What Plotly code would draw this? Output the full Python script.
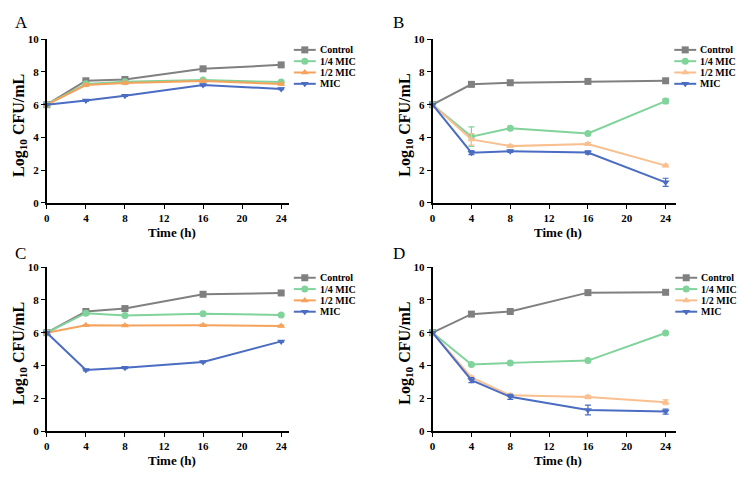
import plotly.graph_objects as go

# ---------------- data ----------------
time_h = [0, 4, 8, 16, 24]
series_names = ["Control", "1/4 MIC", "1/2 MIC", "MIC"]

A_control = [6.0, 7.46, 7.54, 8.19, 8.43]
A_quarter = [6.0, 7.27, 7.40, 7.50, 7.38]
A_half = [6.0, 7.20, 7.32, 7.44, 7.26]
A_mic = [6.0, 6.25, 6.55, 7.20, 6.96]
A_err = [[0, 0.05, 0.05, 0.05, 0.05]] * 4

B_control = [6.0, 7.24, 7.34, 7.42, 7.46]
B_quarter = [6.0, 4.05, 4.56, 4.24, 6.22]
B_half = [6.0, 3.88, 3.47, 3.60, 2.28]
B_mic = [6.0, 3.07, 3.16, 3.08, 1.26]
B_err = [[0, 0.05, 0.05, 0.05, 0.05],
         [0, 0.60, 0.08, 0.08, 0.15],
         [0, 0.35, 0.08, 0.08, 0.08],
         [0, 0.12, 0.08, 0.10, 0.25]]

C_control = [6.0, 7.29, 7.47, 8.34, 8.42]
C_quarter = [6.0, 7.19, 7.05, 7.15, 7.08]
C_half = [6.0, 6.45, 6.44, 6.46, 6.41]
C_mic = [6.0, 3.72, 3.86, 4.22, 5.47]
C_err = [[0, 0.05, 0.05, 0.05, 0.05]] * 4

D_control = [6.0, 7.13, 7.29, 8.44, 8.46]
D_quarter = [6.0, 4.06, 4.16, 4.30, 5.98]
D_half = [6.0, 3.27, 2.18, 2.08, 1.76]
D_mic = [6.0, 3.11, 2.09, 1.29, 1.19]
D_err = [[0, 0.05, 0.05, 0.05, 0.05],
         [0, 0.05, 0.05, 0.05, 0.05],
         [0, 0.08, 0.08, 0.10, 0.15],
         [0, 0.15, 0.15, 0.30, 0.15]]

x_ticks = [0, 4, 8, 12, 16, 20, 24]
y_ticks = [0, 2, 4, 6, 8, 10]
panel_letters = ["A", "B", "C", "D"]

# ---------------- style ----------------
W, H = 744, 482
FONT = "Liberation Serif"
gray = "#808080"
green = "#80d39a"
blue = "#4a6cc2"
orange_dark = "#f5a35c"
orange_light = "#f9bf8e"
symbols = ["square", "circle", "triangle-up", "triangle-down"]

panels = [
    dict(vals=[A_control, A_quarter, A_half, A_mic], err=A_err, orange=orange_dark,
         xl=44, xr=287, x24=279.3, yt=34, yb=202, lx=292, let=(10, 17)),
    dict(vals=[B_control, B_quarter, B_half, B_mic], err=B_err, orange=orange_light,
         xl=431.3, xr=676, x24=665.3, yt=34, yb=202, lx=674, let=(390, 17)),
    dict(vals=[C_control, C_quarter, C_half, C_mic], err=C_err, orange=orange_dark,
         xl=44, xr=287, x24=279.3, yt=267.7, yb=436, lx=292, let=(10, 254)),
    dict(vals=[D_control, D_quarter, D_half, D_mic], err=D_err, orange=orange_light,
         xl=431.3, xr=676, x24=665.3, yt=267.7, yb=436, lx=675, let=(390, 254)),
]

fig = go.Figure()
layout = dict(width=W, height=H, margin=dict(l=0, r=0, t=0, b=0),
              paper_bgcolor="white", plot_bgcolor="rgba(0,0,0,0)", showlegend=False,
              font=dict(family=FONT, color="black"))
annotations = []

for i, p in enumerate(panels):
    k = i + 1
    xa = "x" if k == 1 else f"x{k}"
    ya = "y" if k == 1 else f"y{k}"
    colors = [gray, green, p["orange"], blue]
    xmax = 24 * (p["xr"] - p["xl"]) / (p["x24"] - p["xl"])
    for s in range(4):
        fig.add_trace(go.Scatter(
            x=time_h, y=p["vals"][s], mode="lines+markers", name=series_names[s],
            xaxis=xa, yaxis=ya, cliponaxis=False,
            line=dict(color=colors[s], width=2),
            marker=dict(symbol=symbols[s], size=7, color=colors[s]),
            error_y=dict(type="data", array=p["err"][s], color=colors[s],
                         thickness=1.2, width=3),
        ))
    axis_common = dict(showgrid=False, zeroline=False, showline=True,
                       linecolor="black", linewidth=1.6, ticks="outside",
                       ticklen=4, tickwidth=1.4, tickcolor="black",
                       tickfont=dict(family=FONT, size=11, color="black"))
    layout["xaxis" if k == 1 else f"xaxis{k}"] = dict(
        axis_common, domain=[p["xl"] / W, p["xr"] / W], range=[0, xmax],
        tickvals=x_ticks, ticktext=[f"<b>{v}</b>" for v in x_ticks], anchor=ya)
    layout["yaxis" if k == 1 else f"yaxis{k}"] = dict(
        axis_common, domain=[1 - p["yb"] / H, 1 - p["yt"] / H], range=[0, 10],
        tickvals=y_ticks, ticktext=[f"<b>{v}</b>" for v in y_ticks], anchor=xa)

    # titles
    xc = (p["xl"] + p["xr"]) / 2 + 4
    annotations.append(dict(text="<b>Time (h)</b>", x=xc / W, y=1 - (p["yb"] + 30) / H,
                            xref="paper", yref="paper", showarrow=False,
                            font=dict(family=FONT, size=13), xanchor="center", yanchor="middle"))
    annotations.append(dict(text="<b>Log<sub>10</sub> CFU/mL</b>", x=(p["xl"] - 27) / W,
                            y=1 - ((p["yt"] + p["yb"]) / 2 + 4) / H,
                            xref="paper", yref="paper", showarrow=False, textangle=-90,
                            font=dict(family=FONT, size=16), xanchor="center", yanchor="middle"))
    annotations.append(dict(text=panel_letters[i], x=p["let"][0] / W, y=1 - p["let"][1] / H,
                            xref="paper", yref="paper", showarrow=False,
                            font=dict(family=FONT, size=17), xanchor="left", yanchor="middle"))

    # custom compact legend (overlay pixel axis)
    lx0 = p["lx"]
    lx1 = lx0 + 22
    for s in range(4):
        ly = p["yt"] + 11 + 11.6 * s
        fig.add_trace(go.Scatter(
            x=[lx0, lx1], y=[ly, ly], mode="lines", xaxis="x5", yaxis="y5",
            line=dict(color=colors[s], width=2), hoverinfo="skip"))
        fig.add_trace(go.Scatter(
            x=[(lx0 + lx1) / 2], y=[ly], mode="markers", xaxis="x5", yaxis="y5",
            marker=dict(symbol=symbols[s], size=7, color=colors[s]), hoverinfo="skip"))
        annotations.append(dict(text=f"<b>{series_names[s]}</b>", x=(lx1 + 2) / W, y=1 - ly / H,
                                xref="paper", yref="paper", showarrow=False,
                                font=dict(family=FONT, size=10), xanchor="left", yanchor="middle"))

layout["xaxis5"] = dict(domain=[0, 1], range=[0, W], visible=False, anchor="y5", fixedrange=True)
layout["yaxis5"] = dict(domain=[0, 1], range=[H, 0], visible=False, anchor="x5", fixedrange=True)
layout["annotations"] = annotations
fig.update_layout(**layout)
fig.write_html("out.html")
